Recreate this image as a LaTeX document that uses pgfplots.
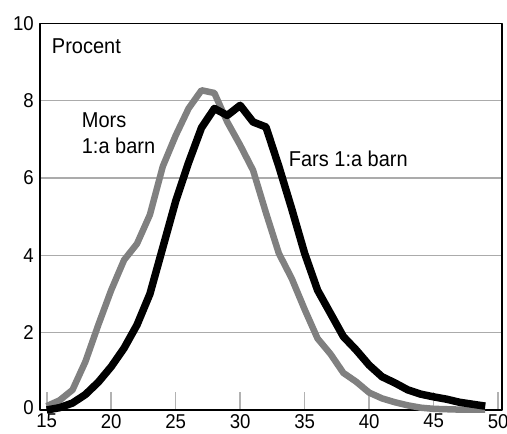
\documentclass[border=0pt]{standalone}
\usepackage{fontspec}
\setmainfont{Liberation Sans}[FakeStretch=0.93]
\usepackage{pgfplots}
\pgfplotsset{compat=1.18}

\begin{document}
\begin{tikzpicture}
\path[use as bounding box] (-40pt,-24pt) rectangle (467pt,410pt);
\begin{axis}[
  anchor=south west, at={(0,0)},
  scale only axis,
  width=462pt, height=386.6pt,
  xmin=14.48, xmax=50.3,
  ymin=0, ymax=10,
  clip=false,
  axis line style={black, line width=1.1pt},
  xtick={15,20,...,50},
  ytick={0,2,...,10},
  yticklabels={\raisebox{5pt}{0},2,4,6,8,10},
  xtick pos=bottom,
  ytick pos=left,
  tick align=inside,
  major tick length=18pt,
  xtick style={draw=black!30, line width=1.6pt},
  ytick style={draw=none},
  ymajorgrids,
  grid style={draw=black!33, line width=1.1pt},
  /pgf/number format/assume math mode=true,
  tick label style={font=\fontsize{20}{23}\selectfont},
  xticklabel style={inner sep=0pt, yshift=-4pt},
  yticklabel style={inner sep=0pt, xshift=-6pt},
  line join=round,
]
% Mors 1:a barn
\addplot[draw=black!50, line width=6.5pt, no marks] coordinates {
(15,0.1) (16,0.25) (17,0.52) (18,1.25) (19,2.2) (20,3.1) (21,3.88) (22,4.3)
(23,5.05) (24,6.3) (25,7.1) (26,7.8) (27,8.27) (28,8.2) (29,7.45) (30,6.85)
(31,6.2) (32,5.1) (33,4.05) (34,3.4) (35,2.6) (36,1.85) (37,1.45) (38,0.96)
(39,0.73) (40,0.45) (41,0.3) (42,0.2) (43,0.12) (44,0.06) (45,0.03) (46,0.02)
(47,0.01) (48,0.01) (49,0.01)
};
% Fars 1:a barn
\addplot[draw=black, line width=7.5pt, no marks] coordinates {
(15,0.0) (16,0.06) (17,0.18) (18,0.4) (19,0.72) (20,1.12) (21,1.6) (22,2.2)
(23,3.0) (24,4.2) (25,5.4) (26,6.4) (27,7.3) (28,7.8) (29,7.62) (30,7.88)
(31,7.45) (32,7.32) (33,6.3) (34,5.2) (35,4.05) (36,3.1) (37,2.5) (38,1.9)
(39,1.55) (40,1.16) (41,0.86) (42,0.7) (43,0.52) (44,0.41) (45,0.34) (46,0.28)
(47,0.2) (48,0.15) (49,0.1)
};
\node[anchor=base west, inner sep=0pt, font=\fontsize{21.5}{26}\selectfont] at (axis cs:15.39,9.22) {Procent};
\node[anchor=base west, inner sep=0pt, font=\fontsize{21.5}{26}\selectfont] at (axis cs:17.71,7.32) {Mors};
\node[anchor=base west, inner sep=0pt, font=\fontsize{21.5}{26}\selectfont] at (axis cs:17.71,6.63) {1:a barn};
\node[anchor=base west, inner sep=0pt, font=\fontsize{21.5}{26}\selectfont] at (axis cs:33.76,6.30) {Fars 1:a barn};
\end{axis}
\end{tikzpicture}
\end{document}
